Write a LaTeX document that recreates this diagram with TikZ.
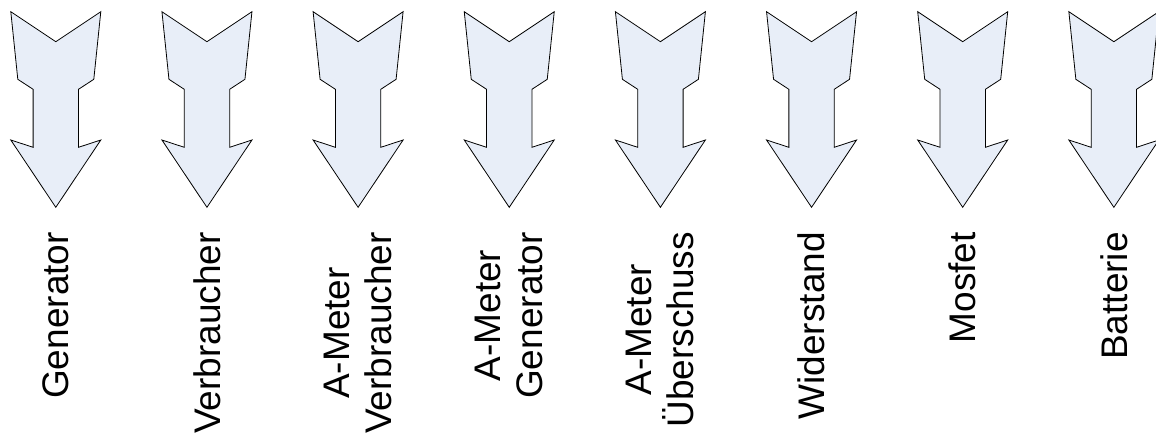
\documentclass[tikz,border=0pt]{standalone}
\usepackage{fontspec}
\setmainfont{Liberation Sans}
\definecolor{pfeilfarbe}{HTML}{E8EEF8}

\begin{document}
\begin{tikzpicture}[x=1pt,y=-1pt,
    pfeil/.style={draw=black, fill=pfeilfarbe, line width=0.8pt, line join=miter},
    beschriftung/.style={rotate=90, anchor=east, inner sep=0pt, align=center,
      font=\fontsize{37}{42}\selectfont}]
   \useasboundingbox (0,0) rectangle (1156,439);

   \foreach \i/\name/\txt in {0/gen/Generator, 1/verb/Verbraucher,
       2/amverb/{A-Meter\\Verbraucher}, 3/amgen/{A-Meter\\Generator},
       4/amueber/{A-Meter\\Überschuss}, 5/wid/Widerstand,
       6/mos/Mosfet, 7/bat/Batterie}
   {
     \pgfmathsetmacro{\cx}{55.8+151.15*\i}
     % Pfeil
     \draw[pfeil] (\cx-45,11.7) -- (\cx,41.7) -- (\cx+45,11.7) -- (\cx+38,79.3)
       -- (\cx+22.7,89.3) -- (\cx+22.7,147.3) -- (\cx+45,140) -- (\cx,207.3)
       -- (\cx-45,140) -- (\cx-22.7,147.3) -- (\cx-22.7,89.3) -- (\cx-38,79.3) -- cycle;
     % Text
     \node[beschriftung] (\name) at (\cx,232) {\txt};
   }
\end{tikzpicture}
\end{document}
